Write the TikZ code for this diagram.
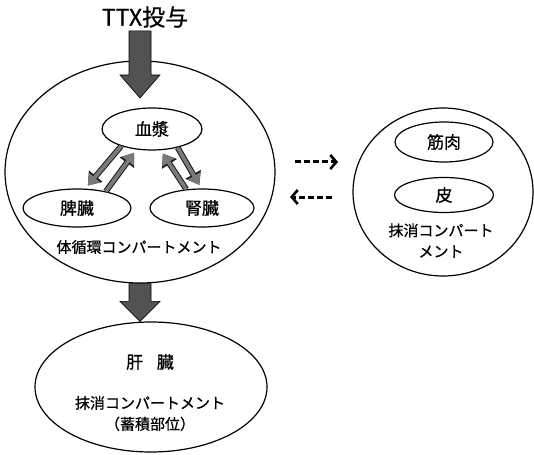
\documentclass[tikz,border=0pt]{standalone}
\usepackage{fontspec}
\setmainfont{Noto Sans CJK JP}[FakeBold=0.7]
\usetikzlibrary{arrows.meta,shapes.geometric,calc}
\begin{document}
\begin{tikzpicture}[x=1pt,y=-1pt,
  oval/.style={ellipse,draw,line width=1.2pt,inner sep=0pt},
  organ/.style={oval,font=\fontsize{17}{20}\selectfont},
  lbl/.style={font=\fontsize{15}{21}\selectfont,align=center,inner sep=0pt},
  bigfill/.style={fill=black!68,draw=black,line width=0.6pt},
  bigarrow/.style={to path={let \p1=(\tikztostart),\p2=(\tikztotarget) in
     (\x2-11pt,\y1) -- (\x2+11pt,\y1) -- (\x2+11pt,\y2+#1) -- (\x2+20pt,\y2+#1)
     -- (\x2,\y2) -- (\x2-20pt,\y2+#1) -- (\x2-11pt,\y2+#1) -- cycle}},
  smallarrow/.style={line width=3.8pt, draw=black!52,
     -{Triangle[length=10.5pt,width=14pt]}, shorten >=4pt,
     preaction={draw=black!90, line width=5.8pt, -{Triangle[length=12.3pt,width=17pt]}}},
  dasharrow/.style={line width=3pt, dash pattern=on 6pt off 3pt,
     -{Straight Barb[length=6pt,width=14pt,line width=2.6pt]}}
]
\useasboundingbox (0,0) rectangle (534,454);

% texts and compartments
\node[font=\fontsize{23}{26}\selectfont, inner sep=0pt] (ttx) at (145,17) {TTX投与};
\node[oval, minimum width=270pt, minimum height=222pt] (sys) at (140,172) {};
\node[organ, minimum width=100pt, minimum height=42pt] (plasma) at (152,129) {血漿};
\node[organ, minimum width=108pt, minimum height=38pt] (spleen) at (77,208) {脾臓};
\node[organ, minimum width=104pt, minimum height=38pt] (kidney) at (202,208) {腎臓};
\node[lbl] (syslbl) at (139,247) {体循環コンパートメント};

\node[oval, minimum width=180pt, minimum height=168pt] (peri) at (443,192) {};
\node[organ, minimum width=98pt, minimum height=40pt] (muscle) at (444,142) {筋肉};
\node[organ, minimum width=99pt, minimum height=35pt] (skin) at (444,195) {皮};
\node[lbl] (perilbl) at (441,240.5) {抹消コンパート\\メント};

\node[oval, minimum width=232pt, minimum height=130pt] (liver) at (151,387) {};
\node[inner sep=0pt, font=\fontsize{17}{20}\selectfont] (livername) at (150,362) {肝\hspace{0.8em}臓};
\node[lbl] (liverlbl) at (150,413.5) {抹消コンパートメント\\（蓄積部位）};

% big arrows
\coordinate (tip1) at (140,98);
\coordinate (tip2) at (liver.north -| sys.south);
\draw[bigfill] ([yshift=-3pt]ttx.south) to[bigarrow=23pt] (tip1);
\draw[bigfill] (sys.south) to[bigarrow=20pt] (tip2);

% exchange arrows
\draw[smallarrow] (plasma.209) -- (spleen.67);
\draw[smallarrow] (spleen.30) -- (plasma.233);
\draw[smallarrow] (kidney.130) -- (plasma.292);
\draw[smallarrow] (plasma.324) -- (kidney.92);

% dashed arrows
\coordinate (d1a) at (295,162);
\coordinate (d1b) at (338,162);
\coordinate (d2a) at (332,197);
\coordinate (d2b) at (290,197);
\draw[dasharrow] (d1a) -- (d1b);
\draw[dasharrow] (d2a) -- (d2b);
\end{tikzpicture}
\end{document}
